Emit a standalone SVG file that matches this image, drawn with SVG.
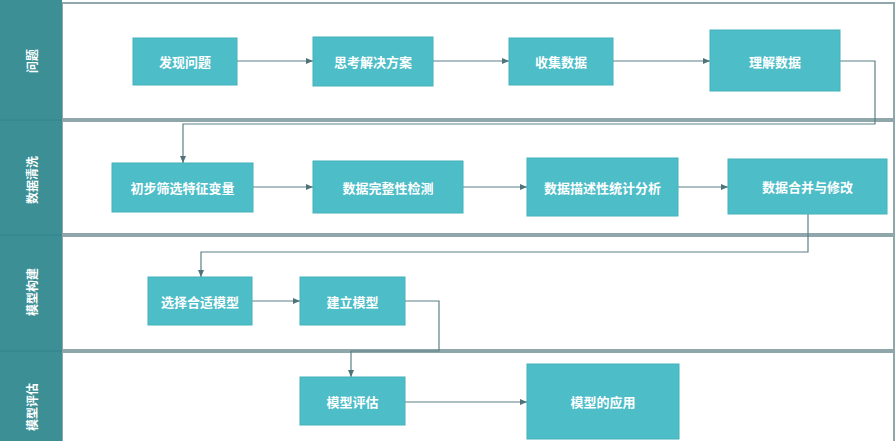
<svg xmlns="http://www.w3.org/2000/svg" width="895" height="441" viewBox="0 0 895 441">
<defs>
<marker id="ah" markerWidth="8" markerHeight="8" refX="7" refY="4" orient="auto" markerUnits="userSpaceOnUse">
<path d="M0,1 L7,4 L0,7 Z" fill="#4f7378"/>
</marker>
<style>
.lane{fill:#ffffff;stroke:#8fa7aa;stroke-width:2}
.band{fill:#3b8f95}
.node rect{fill:#4dbdc8;stroke:#45b2bc;stroke-width:1}
.node text{fill:#ffffff;font-family:"Noto Sans CJK SC","Noto Sans",sans-serif;font-weight:bold;font-size:13px;text-anchor:middle;dominant-baseline:central}
.lbl{fill:#ffffff;font-family:"Noto Sans CJK SC","Noto Sans",sans-serif;font-weight:bold;font-size:12px;text-anchor:middle;dominant-baseline:central}
.conn path{fill:none;stroke:#5d8085;stroke-width:1.2;marker-end:url(#ah)}
</style>
</defs>
<rect width="895" height="441" fill="#ffffff"/>
<g id="lanes">
<rect class="lane" x="62" y="3" width="832" height="116"/>
<rect class="lane" x="62" y="121" width="832" height="113"/>
<rect class="lane" x="62" y="236" width="832" height="114"/>
<rect class="lane" x="62" y="352" width="832" height="92"/>
<rect class="band" x="0" y="0" width="62" height="441"/>
<line x1="0" y1="120" x2="62" y2="120" stroke="#35848a" stroke-width="1"/>
<line x1="0" y1="235" x2="62" y2="235" stroke="#35848a" stroke-width="1"/>
<line x1="0" y1="351" x2="62" y2="351" stroke="#35848a" stroke-width="1"/>
<text class="lbl" transform="translate(31,61) rotate(-90)">问题</text>
<text class="lbl" transform="translate(31,180) rotate(-90)">数据清洗</text>
<text class="lbl" transform="translate(31,292) rotate(-90)">模型构建</text>
<text class="lbl" transform="translate(31,407) rotate(-90)">模型评估</text>
</g>
<g id="connectors" class="conn">
<path d="M237,61 H313"/>
<path d="M433,61 H509"/>
<path d="M613,61 H710"/>
<path d="M840,61 H875 V124 H183 V163"/>
<path d="M253,187 H313"/>
<path d="M463,187 H527"/>
<path d="M678,187 H728"/>
<path d="M808,214 V252 H201 V277"/>
<path d="M252,301 H300"/>
<path d="M405,301 H439 V351 H351 V377"/>
<path d="M405,402 H527"/>
</g>
<g id="n1" class="node"><rect x="133" y="38" width="104" height="47"/><text x="185" y="61.5">发现问题</text></g>
<g id="n2" class="node"><rect x="313" y="37" width="120" height="49"/><text x="373" y="61.5">思考解决方案</text></g>
<g id="n3" class="node"><rect x="509" y="38" width="104" height="47"/><text x="561" y="61.5">收集数据</text></g>
<g id="n4" class="node"><rect x="710" y="30" width="130" height="61"/><text x="775" y="61">理解数据</text></g>
<g id="n5" class="node"><rect x="112" y="163" width="141" height="49"/><text x="182.5" y="187.5">初步筛选特征变量</text></g>
<g id="n6" class="node"><rect x="313" y="161" width="150" height="52"/><text x="388" y="187">数据完整性检测</text></g>
<g id="n7" class="node"><rect x="527" y="158" width="151" height="58"/><text x="602.5" y="187">数据描述性统计分析</text></g>
<g id="n8" class="node"><rect x="728" y="159" width="159" height="55"/><text x="807.5" y="186.5">数据合并与修改</text></g>
<g id="n9" class="node"><rect x="148" y="277" width="104" height="48"/><text x="200" y="301">选择合适模型</text></g>
<g id="n10" class="node"><rect x="300" y="277" width="105" height="48"/><text x="352.5" y="301">建立模型</text></g>
<g id="n11" class="node"><rect x="300" y="377" width="105" height="48"/><text x="352.5" y="401">模型评估</text></g>
<g id="n12" class="node"><rect x="527" y="364" width="152" height="75"/><text x="603" y="401">模型的应用</text></g>
</svg>
